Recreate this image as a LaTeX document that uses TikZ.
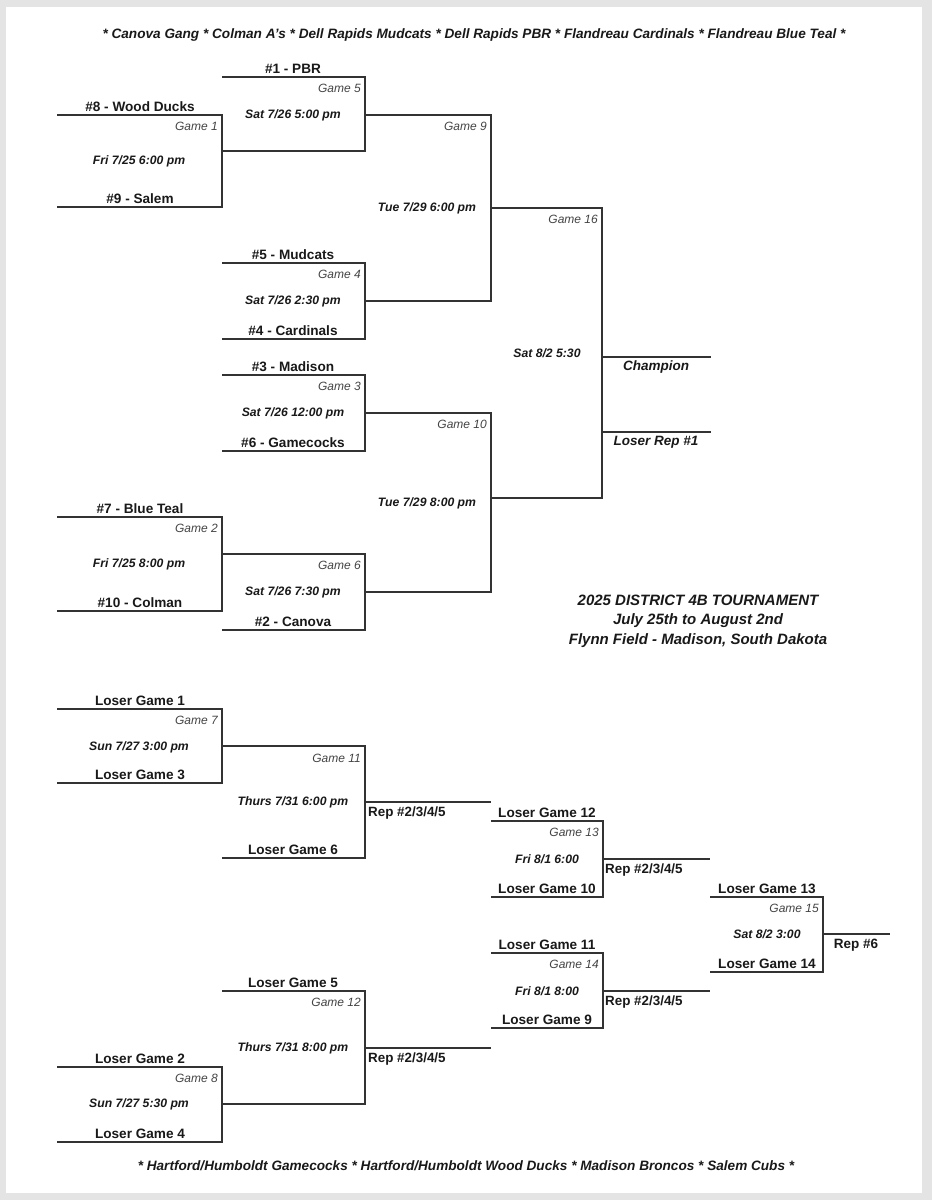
\documentclass[tikz,border=0pt]{standalone}
\usepackage{fontspec}
\setmainfont{Liberation Sans}
\definecolor{lineC}{HTML}{333333}
\definecolor{gameC}{HTML}{444444}
\definecolor{frameC}{HTML}{E4E4E4}
\tikzset{
  bline/.style={draw=lineC,line width=1.8pt},
  team/.style={font=\bfseries\fontsize{13.6}{16}\selectfont,anchor=base,inner sep=0pt,text=black!90},
  dateL/.style={font=\bfseries\itshape\fontsize{12.2}{15}\selectfont,anchor=center,inner sep=0pt,text=black!90},
  gameL/.style={font=\itshape\fontsize{12}{14}\selectfont,anchor=east,inner sep=0pt,text=gameC},
  repL/.style={font=\bfseries\fontsize{13.4}{16}\selectfont,anchor=west,inner sep=0pt,text=black!90},
  finL/.style={font=\bfseries\itshape\fontsize{13.5}{16}\selectfont,anchor=center,inner sep=0pt,text=black!90},
  hdr/.style={font=\bfseries\itshape\fontsize{13.6}{15}\selectfont,anchor=center,inner sep=0pt,text=black!90},
  ttl/.style={font=\bfseries\itshape\fontsize{15}{19.5}\selectfont,align=center,anchor=center,inner sep=0pt,text=black!90},
}
% #1 name, #2 xl, #3 xr, #4 ytop, #5 ybot
\newcommand\gamebox[5]{%
  \coordinate (#1tl) at (#2,#4);
  \coordinate (#1tr) at (#3,#4);
  \coordinate (#1br) at (#3,#5);
  \coordinate (#1bl) at (#2,#5);
  \draw[bline,line join=miter] (#1tl) -- (#1tr) -- (#1br) -- (#1bl);
}
% #1 name, #2 xl, #3 xr, #4 y
\newcommand\outline[4]{%
  \coordinate (#1a) at (#2,#4);
  \coordinate (#1b) at (#3,#4);
  \draw[bline] (#1a) -- (#1b);
}
\begin{document}
\begin{tikzpicture}[x=1pt,y=-1pt]
\useasboundingbox (0,0) rectangle (932,1200);
\fill[frameC] (0,0) rectangle (932,1200);
\fill[white] (6,7) rectangle (922,1193);

% header & footer
\node[hdr] (hdr) at (474,35) {* Canova Gang * Colman A's * Dell Rapids Mudcats * Dell Rapids PBR * Flandreau Cardinals * Flandreau Blue Teal *};
\node[hdr] (ftr) at (466,1166) {* Hartford/Humboldt Gamecocks * Hartford/Humboldt Wood Ducks * Madison Broncos * Salem Cubs *};

% ===== top bracket =====
\gamebox{gA}{57}{222}{115}{207}
\node[team] (t8) at (140,111) {\#8 - Wood Ducks};
\node[gameL] (n1) at (218,126) {Game 1};
\node[dateL] (d1) at (139,161) {Fri 7/25 6:00 pm};
\node[team] (t9) at (140,203) {\#9 - Salem};

\gamebox{gE}{222}{365}{77}{151}
\node[team] (t1) at (293,73) {\#1 - PBR};
\node[gameL] (n5) at (361,88) {Game 5};
\node[dateL] (d5) at (293,115) {Sat 7/26 5:00 pm};

\gamebox{gD}{222}{365}{263}{339}
\node[team] (t5) at (293,259) {\#5 - Mudcats};
\node[gameL] (n4) at (361,274) {Game 4};
\node[dateL] (d4) at (293,301) {Sat 7/26 2:30 pm};
\node[team] (t4) at (293,335) {\#4 - Cardinals};

\gamebox{gI}{365}{491}{115}{301}
\node[gameL] (n9) at (487,126) {Game 9};
\node[dateL] (d9) at (427,208) {Tue 7/29 6:00 pm};

\gamebox{gC}{222}{365}{375}{451}
\node[team] (t3) at (293,371) {\#3 - Madison};
\node[gameL] (n3) at (361,386) {Game 3};
\node[dateL] (d3) at (293,413) {Sat 7/26 12:00 pm};
\node[team] (t6) at (293,447) {\#6 - Gamecocks};

\gamebox{gB}{57}{222}{517}{611}
\node[team] (t7) at (140,513) {\#7 - Blue Teal};
\node[gameL] (n2) at (218,528) {Game 2};
\node[dateL] (d2) at (139,564) {Fri 7/25 8:00 pm};
\node[team] (t10) at (140,607) {\#10 - Colman};

\gamebox{gF}{222}{365}{554}{630}
\node[gameL] (n6) at (361,565) {Game 6};
\node[dateL] (d6) at (293,592) {Sat 7/26 7:30 pm};
\node[team] (t2) at (293,626) {\#2 - Canova};

\gamebox{gJ}{365}{491}{413}{592}
\node[gameL] (n10) at (487,424) {Game 10};
\node[dateL] (d10) at (427,503) {Tue 7/29 8:00 pm};

\gamebox{gP}{491}{602}{208}{498}
\node[gameL] (n16) at (598,219) {Game 16};
\node[dateL] (d16) at (547,353) {Sat 8/2 5:30};
\outline{oCh}{602}{711}{357}
\outline{oLr}{602}{711}{432}
\node[finL] (champ) at (656,367) {Champion};
\node[finL] (lrep) at (656,442) {Loser Rep \#1};

\node[ttl] (title) at (698,621) {2025 DISTRICT 4B TOURNAMENT\\July 25th to August 2nd\\Flynn Field - Madison, South Dakota};

% ===== bottom bracket =====
\gamebox{gG}{57}{222}{709}{783}
\node[team] (l1) at (140,705) {Loser Game 1};
\node[gameL] (n7) at (218,720) {Game 7};
\node[dateL] (d7) at (139,747) {Sun 7/27 3:00 pm};
\node[team] (l3) at (140,779) {Loser Game 3};

\gamebox{gK}{222}{365}{746}{858}
\node[gameL] (n11) at (361,758) {Game 11};
\node[dateL] (d11) at (293,802) {Thurs 7/31 6:00 pm};
\node[team] (l6) at (293,854) {Loser Game 6};
\outline{oK}{365}{491}{802}
\node[repL] (r11) at (368,813) {Rep \#2/3/4/5};

\gamebox{gM}{491}{603}{821}{897}
\node[team] (l12) at (547,817) {Loser Game 12};
\node[gameL] (n13) at (599,832) {Game 13};
\node[dateL] (d13) at (547,859) {Fri 8/1 6:00};
\node[team] (l10) at (547,893) {Loser Game 10};
\outline{oM}{603}{710}{859}
\node[repL] (r13) at (605,870) {Rep \#2/3/4/5};

\gamebox{gN}{491}{603}{953}{1028}
\node[team] (l11) at (547,949) {Loser Game 11};
\node[gameL] (n14) at (599,964) {Game 14};
\node[dateL] (d14) at (547,991) {Fri 8/1 8:00};
\node[team] (l9) at (547,1024) {Loser Game 9};
\outline{oN}{603}{710}{991}
\node[repL] (r14) at (605,1002) {Rep \#2/3/4/5};

\gamebox{gO}{710}{823}{897}{972}
\node[team] (l13) at (767,893) {Loser Game 13};
\node[gameL] (n15) at (819,908) {Game 15};
\node[dateL] (d15) at (767,934) {Sat 8/2 3:00};
\node[team] (l14) at (767,968) {Loser Game 14};
\outline{oO}{823}{890}{934}
\node[finL,font=\bfseries\fontsize{13.5}{16}\selectfont] (r15) at (856,945) {Rep \#6};

\gamebox{gL}{222}{365}{991}{1104}
\node[team] (l5) at (293,987) {Loser Game 5};
\node[gameL] (n12) at (361,1002) {Game 12};
\node[dateL] (d12) at (293,1048) {Thurs 7/31 8:00 pm};
\outline{oL}{365}{491}{1048}
\node[repL] (r12) at (368,1059) {Rep \#2/3/4/5};

\gamebox{gH}{57}{222}{1067}{1142}
\node[team] (l2) at (140,1063) {Loser Game 2};
\node[gameL] (n8) at (218,1078) {Game 8};
\node[dateL] (d8) at (139,1104) {Sun 7/27 5:30 pm};
\node[team] (l4) at (140,1138) {Loser Game 4};
\end{tikzpicture}
\end{document}
